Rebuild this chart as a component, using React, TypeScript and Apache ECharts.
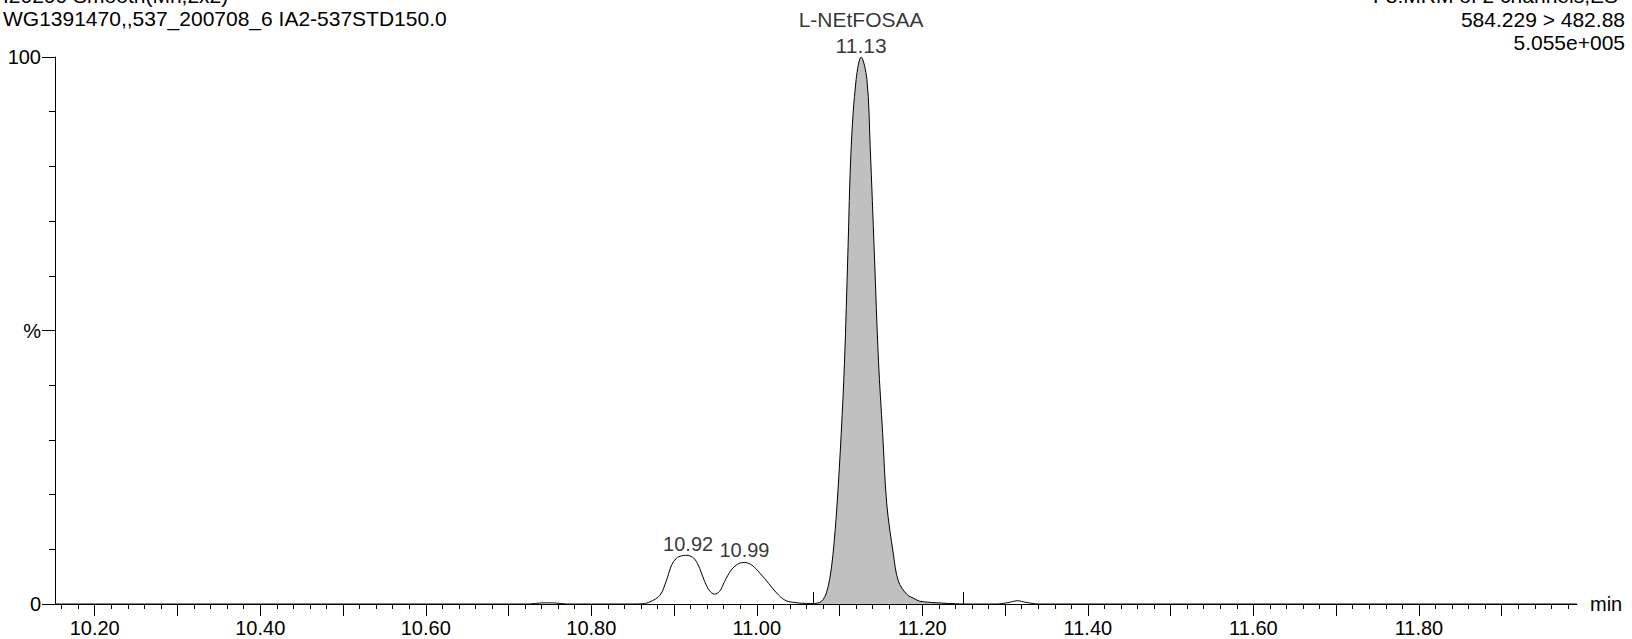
import React, { useEffect, useRef } from "react";
import * as echarts from "echarts";

// ---- data ----
const times = [
  10.152, 10.3, 10.5, 10.7, 10.725, 10.74, 10.755, 10.77, 10.8, 10.85,
  10.862, 10.871, 10.883, 10.891, 10.897, 10.903, 10.909, 10.914, 10.919, 10.925,
  10.931, 10.937, 10.943, 10.949, 10.955, 10.961, 10.969, 10.977, 10.985, 10.994,
  11.004, 11.014, 11.024, 11.034, 11.044, 11.06, 11.07, 11.076, 11.08, 11.084,
  11.088, 11.092, 11.097, 11.102, 11.106, 11.11, 11.114, 11.12, 11.126, 11.133,
  11.137, 11.142, 11.147, 11.152, 11.157, 11.165, 11.171, 11.181, 11.19, 11.197,
  11.21, 11.225, 11.24, 11.25, 11.29, 11.305, 11.315, 11.325, 11.34, 11.4,
  11.6, 11.8, 11.991,
];
const intensities = [
  0, 0, 0, 0, 0, 0.2, 0.2, 0, 0, 0,
  0.05, 0.4, 1.6, 4.4, 7.1, 8.4, 8.8, 8.9, 8.8, 8.2,
  6.5, 4.1, 2.4, 1.8, 2.3, 4.1, 6.2, 7.3, 7.6, 7.1,
  5.6, 3.8, 2.0, 0.7, 0.3, 0.1, 0.1, 0.3, 0.8, 2.0,
  4.5, 9.0, 18.3, 31.3, 44.4, 64, 83.5, 95.9, 100, 95.9,
  83.5, 64, 44.4, 31.3, 18.3, 9.1, 4.2, 1.8, 1.0, 0.5,
  0.3, 0.15, 0.05, 0, 0, 0.3, 0.6, 0.3, 0, 0,
  0, 0, 0,
];

const peakTimes = [10.917, 10.985, 11.126];
const peakHeights = [8.8, 7.6, 100];
const peakLabels = ["10.92", "10.99", "L-NEtFOSAA\n11.13"];

const integrationBounds = [11.068, 11.25];

const xMin = 10.152;
const xMax = 11.991;
const xMajorTicks = [10.2, 10.3, 10.4, 10.5, 10.6, 10.7, 10.8, 10.9, 11.0, 11.1, 11.2, 11.3, 11.4, 11.5, 11.6, 11.7, 11.8, 11.9];
const xLabelValues = [10.2, 10.4, 10.6, 10.8, 11.0, 11.2, 11.4, 11.6, 11.8];
const yMajorTicks = [0, 50, 100];
const yMinorTicks = [10, 20, 30, 40, 60, 70, 80, 90];
const yLabelText: Record<number, string> = { 0: "0", 50: "%", 100: "100" };

const headerLeft = ["I20200 Smooth(Mn,2x2)", "WG1391470,,537_200708_6 IA2-537STD150.0"];
const headerRight = ["F8:MRM of 2 channels,ES-", "584.229 > 482.88", "5.055e+005"];

const FONT = "Liberation Sans, Arial, Helvetica, sans-serif";

export default function App() {
  const ref = useRef<HTMLDivElement>(null);

  useEffect(() => {
    if (!ref.current) return;
    const chart = echarts.init(ref.current, undefined, { renderer: "svg" });

    const xMinorTicks: number[] = [];
    for (let i = 0; i <= 91; i++) {
      xMinorTicks.push(Math.round((10.16 + i * 0.02) * 1000) / 1000);
    }

    const lineData = times.map((t, i) => [t, intensities[i]]);
    const fillData = lineData.filter(
      (p) => p[0] >= integrationBounds[0] && p[0] <= integrationBounds[1]
    );

    const peakData = peakTimes.map((t, i) => {
      const isMain = i === 2;
      return {
        value: [t, peakHeights[i]],
        label: {
          show: true,
          position: "top",
          formatter: peakLabels[i],
          distance: isMain ? -1 : 2,
          lineHeight: isMain ? 26 : 20,
          fontSize: isMain ? 21 : 20,
          color: "#000",
          fontFamily: FONT,
        },
      };
    });

    const graphics: any[] = [];
    headerLeft.forEach((txt, i) => {
      graphics.push({
        type: "text",
        style: {
          text: txt,
          x: 3,
          y: -4.5 + i * 23,
          align: "left",
          verticalAlign: "middle",
          font: `21px ${FONT}`,
          fill: "#000",
        },
      });
    });
    headerRight.forEach((txt, i) => {
      graphics.push({
        type: "text",
        style: {
          text: txt,
          x: 1625,
          y: -4.5 + i * 23.5,
          align: "right",
          verticalAlign: "middle",
          font: `21px ${FONT}`,
          fill: "#000",
        },
      });
    });

    const option: any = {
      animation: false,
      backgroundColor: "#fff",
      grid: { left: 55, right: 55, top: 57, bottom: 35, containLabel: false },
      graphic: graphics,
      xAxis: [
        {
          type: "value",
          min: xMin,
          max: xMax,
          position: "bottom",
          axisLine: { show: true, onZero: false, lineStyle: { color: "#000", width: 1 } },
          axisTick: {
            show: true,
            length: 12,
            customValues: xMajorTicks,
            lineStyle: { color: "#000", width: 1 },
          },
          axisLabel: {
            show: true,
            customValues: xLabelValues,
            formatter: (v: number) => v.toFixed(2),
            margin: 14,
            fontSize: 20,
            color: "#000",
            fontFamily: FONT,
          },
          splitLine: { show: false },
          name: "min",
          nameLocation: "end",
          nameGap: 13,
          nameTextStyle: { fontSize: 20, color: "#000", fontFamily: FONT, verticalAlign: "middle" },
        },
        {
          type: "value",
          min: xMin,
          max: xMax,
          position: "bottom",
          axisLine: { show: false },
          axisTick: {
            show: true,
            length: 5,
            customValues: xMinorTicks,
            lineStyle: { color: "#000", width: 1 },
          },
          axisLabel: { show: false },
          splitLine: { show: false },
        },
      ],
      yAxis: [
        {
          type: "value",
          min: 0,
          max: 100,
          position: "left",
          axisLine: { show: true, onZero: false, lineStyle: { color: "#000", width: 1 } },
          axisTick: {
            show: true,
            length: 13,
            customValues: yMajorTicks,
            lineStyle: { color: "#000", width: 1 },
          },
          axisLabel: {
            show: true,
            customValues: yMajorTicks,
            formatter: (v: number) => yLabelText[v] ?? "",
            margin: 14,
            fontSize: 20,
            color: "#000",
            fontFamily: FONT,
          },
          splitLine: { show: false },
        },
        {
          type: "value",
          min: 0,
          max: 100,
          position: "left",
          axisLine: { show: false },
          axisTick: {
            show: true,
            length: 6,
            customValues: yMinorTicks,
            lineStyle: { color: "#000", width: 1 },
          },
          axisLabel: { show: false },
          splitLine: { show: false },
        },
      ],
      series: [
        {
          type: "line",
          name: "fill",
          data: fillData,
          smooth: 0.35,
          showSymbol: false,
          silent: true,
          lineStyle: { width: 0, color: "#c0c0c0" },
          areaStyle: { color: "#c0c0c0", opacity: 1 },
          z: 1,
        },
        {
          type: "line",
          name: "trace",
          data: lineData,
          smooth: 0.35,
          showSymbol: false,
          silent: true,
          lineStyle: { width: 1, color: "#000" },
          z: 2,
          markLine: {
            silent: true,
            symbol: "none",
            label: { show: false },
            lineStyle: { color: "#000", width: 1, type: "solid" },
            data: integrationBounds.map((b) => [
              { coord: [b, 0] },
              { coord: [b, 2.2] },
            ]),
          },
        },
        {
          type: "scatter",
          name: "peaks",
          data: peakData,
          symbolSize: 0,
          silent: true,
          z: 3,
        },
      ],
    };

    chart.setOption(option);
    return () => chart.dispose();
  }, []);

  return (
    <div
      ref={ref}
      style={{ position: "absolute", left: 0, top: 0, width: 1632, height: 639, background: "#fff" }}
    />
  );
}
